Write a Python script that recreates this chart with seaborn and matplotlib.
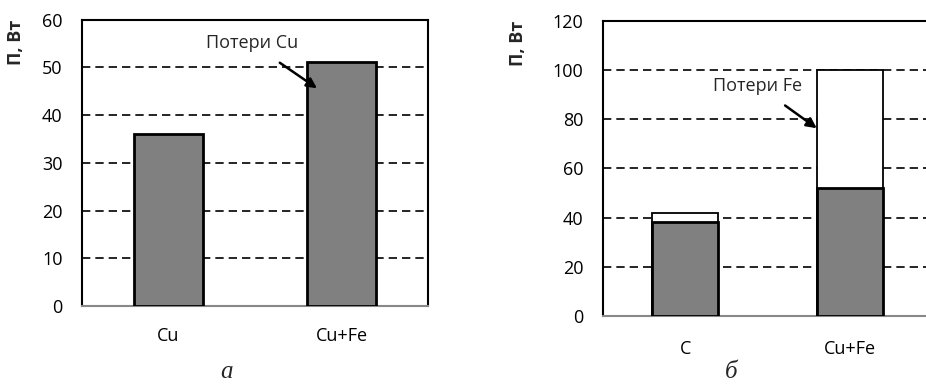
import numpy as np
import pandas as pd
import matplotlib
matplotlib.use("Agg")
import matplotlib.pyplot as plt
import seaborn as sns

# panel a
cats_a = ["Cu", "Cu+Fe"]
cu_a = [36, 51]
ticks_a = [0, 10, 20, 30, 40, 50, 60]

# panel b (stacked: Cu losses + Fe losses)
cats_b = ["C", "Cu+Fe"]
cu_b = [38, 52]
fe_b = [4, 48]
ticks_b = [0, 20, 40, 60, 80, 100, 120]

ylabel = "П, Вт"

sns.set_theme(style="white")
plt.rcParams["font.family"] = ["Open Sans", "DejaVu Sans"]

fig = plt.figure(figsize=(9.26, 3.84), dpi=100)
ax1 = fig.add_axes([0.0886, 0.2031, 0.3737, 0.7461])
ax2 = fig.add_axes([0.6509, 0.1771, 0.3564, 0.7690])

df_a = pd.DataFrame({"cat": cats_a, "val": cu_a})
df_b = pd.DataFrame({"cat": cats_b, "cu": cu_b,
                     "total": np.array(cu_b) + np.array(fe_b)})

sns.barplot(data=df_a, x="cat", y="val", color="#808080", edgecolor="black",
            linewidth=2, width=0.4, saturation=1, ax=ax1, zorder=3)
sns.barplot(data=df_b, x="cat", y="total", color="white", edgecolor="black",
            linewidth=1.3, width=0.4, saturation=1, ax=ax2, zorder=3)
sns.barplot(data=df_b, x="cat", y="cu", color="#808080", edgecolor="black",
            linewidth=2, width=0.4, saturation=1, ax=ax2, zorder=4)

for ax, ticks, pad_x in [(ax1, ticks_a, 15), (ax2, ticks_b, 17)]:
    ax.set_xlim(-0.5, 1.5)
    ax.set_ylim(ticks[0], ticks[-1])
    ax.set_yticks(ticks)
    ax.yaxis.grid(True, color="black", linestyle=(0, (5, 3)), linewidth=1.2)
    ax.set_axisbelow(True)
    ax.tick_params(axis="y", length=0, pad=14, labelsize=13, labelcolor="black")
    ax.tick_params(axis="x", which="major", length=0, pad=pad_x,
                   labelsize=13, labelcolor="black")
    ax.set_xticks([-0.5, 0.5, 1.5], minor=True)
    ax.tick_params(axis="x", which="minor", length=5, width=1.2,
                   color="#888888", direction="out")
    for s in ["left", "top", "right"]:
        ax.spines[s].set_color("black")
        ax.spines[s].set_linewidth(1.5)
        ax.spines[s].set_visible(True)
    ax.spines["bottom"].set_color("#888888")
    ax.spines["bottom"].set_linewidth(1.5)
    ax.set_xlabel("")
    ax.set_ylabel(ylabel, fontsize=13, fontweight="bold", loc="top")

ax1.yaxis.set_label_coords(-0.165, 1.0)
ax2.yaxis.set_label_coords(-0.229, 1.0)

ax1.annotate("Потери Cu", xy=(0.858, 45.6), xytext=(0.48, 55),
             ha="center", va="center", fontsize=13,
             arrowprops=dict(arrowstyle="-|>", color="black", lw=1.8,
                             mutation_scale=15, shrinkA=9, shrinkB=0))
ax2.annotate("Потери Fe", xy=(0.797, 76.3), xytext=(0.44, 93.5),
             ha="center", va="center", fontsize=13,
             arrowprops=dict(arrowstyle="-|>", color="black", lw=1.8,
                             mutation_scale=15, shrinkA=9, shrinkB=0))

fig.text(0.245, 0.016, "а", fontsize=18, style="italic",
         family="Liberation Serif", ha="center", va="baseline")
fig.text(0.790, 0.016, "б", fontsize=18, style="italic",
         family="Liberation Serif", ha="center", va="baseline")

fig.savefig("out.png", dpi=100)
